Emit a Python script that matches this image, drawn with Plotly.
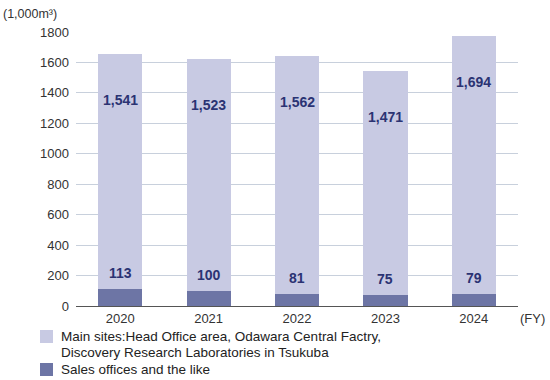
import plotly.graph_objects as go

years = ["2020", "2021", "2022", "2023", "2024"]
sales_offices = [113, 100, 81, 75, 79]
main_sites = [1541, 1523, 1562, 1471, 1694]
y_ticks = [0, 200, 400, 600, 800, 1000, 1200, 1400, 1600, 1800]

name_main_1 = "Main sites:Head Office area, Odawara Central Factry,"
name_main_2 = "Discovery Research Laboratories in Tsukuba"
name_sales = "Sales offices and the like"

c_light = "#c8cae3"
c_dark = "#6d75a5"
label_color = "#2b3373"

W, H = 550, 380
L, R, T, B = 76, 32, 32, 74
PW, PH = W - L - R, H - T - B


def px(x):
    return (x - L) / PW


def py(y):
    return (H - B - y) / PH


fig = go.Figure()
fig.add_trace(go.Bar(x=years, y=sales_offices, name=name_sales, marker_color=c_dark,
                     marker_line_width=0, showlegend=False))
fig.add_trace(go.Bar(x=years, y=main_sites, name=name_main_1 + " " + name_main_2,
                     marker_color=c_light, marker_line_width=0, showlegend=False))

totals = [a + b for a, b in zip(sales_offices, main_sites)]
lab_font = dict(size=14, color=label_color, family="Liberation Sans, Arial", weight="bold")
for i, (s, m, t) in enumerate(zip(sales_offices, main_sites, totals)):
    fig.add_annotation(x=i, y=s, text=f"{s:,}", showarrow=False, yanchor="bottom", yshift=6,
                       font=lab_font)
    fig.add_annotation(x=i, y=t, text=f"{m:,}", showarrow=False, yanchor="middle", yshift=-46,
                       font=lab_font)

fig.add_annotation(xref="paper", yref="paper", x=px(1), y=py(14), text="(1,000m³)", showarrow=False,
                   xanchor="left", yanchor="middle", font=dict(size=12.5, color="#333"))
fig.add_annotation(xref="paper", yref="paper", x=px(518), y=py(318), text="(FY)", showarrow=False,
                   xanchor="left", yanchor="middle", font=dict(size=13, color="#333"))

# legend
leg_font = dict(size=13.5, color="#222")
fig.add_shape(type="rect", xref="paper", yref="paper", x0=px(40), x1=px(53), y0=py(343), y1=py(330),
              fillcolor=c_light, line_width=0)
fig.add_shape(type="rect", xref="paper", yref="paper", x0=px(40), x1=px(53), y0=py(376), y1=py(363),
              fillcolor=c_dark, line_width=0)
for txt, yy in [(name_main_1, 336.5), (name_main_2, 352), (name_sales, 369)]:
    fig.add_annotation(xref="paper", yref="paper", x=px(59), y=py(yy), text=txt, showarrow=False,
                       xanchor="left", yanchor="middle", font=leg_font)

fig.update_layout(
    width=W, height=H,
    margin=dict(l=L, r=R, t=T, b=B, autoexpand=False),
    barmode="stack", bargap=0.5,
    plot_bgcolor="white", paper_bgcolor="white",
    font=dict(family="Liberation Sans, Arial", size=13, color="#333"),
    showlegend=False,
    xaxis=dict(type="category", showline=True, linecolor="#555", linewidth=1, ticks="", showgrid=False,
               tickfont=dict(size=13, color="#333")),
    yaxis=dict(range=[0, 1800], tickvals=y_ticks, showgrid=True, gridcolor="#c8d0dc",
               gridwidth=1, zeroline=False, ticks="", ticklabelstandoff=6,
               tickfont=dict(size=13, color="#333")),
)

fig.write_html("out.html", config={"displayModeBar": False},
               post_script="document.body.style.margin='0';document.body.style.overflow='hidden';")
